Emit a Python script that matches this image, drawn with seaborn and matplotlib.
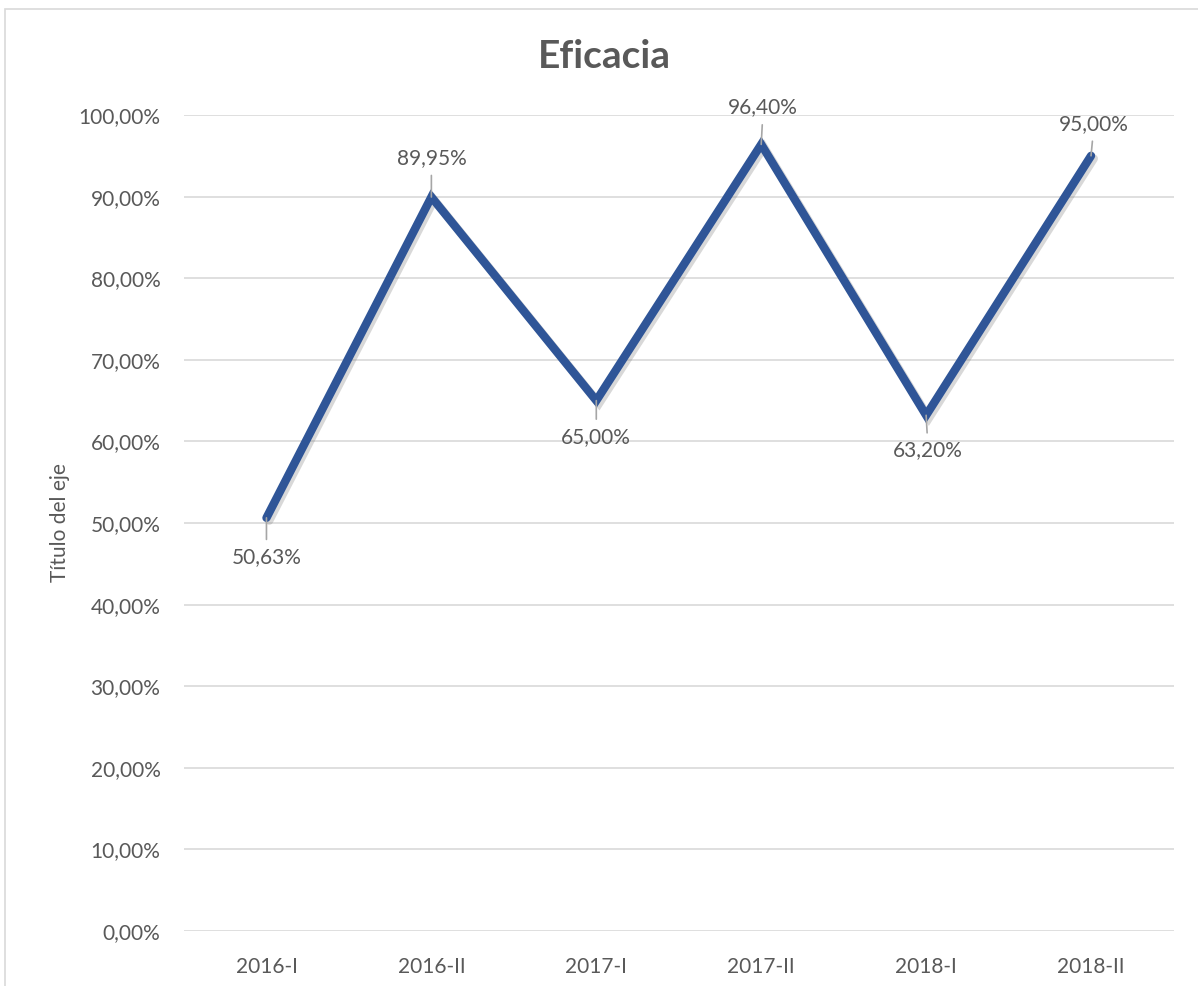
import matplotlib
matplotlib.use("Agg")
import matplotlib.pyplot as plt
import matplotlib.patheffects as pe
import seaborn as sns
import pandas as pd

categories = ["2016-I", "2016-II", "2017-I", "2017-II", "2018-I", "2018-II"]
values = [50.63, 89.95, 65.00, 96.40, 63.20, 95.00]
labels = ["50,63%", "89,95%", "65,00%", "96,40%", "63,20%", "95,00%"]
label_offsets = [(0, -39), (0, 39), (0, -36), (2, 37), (2, -35), (3, 32)]
yticks = [0, 10, 20, 30, 40, 50, 60, 70, 80, 90, 100]
ytick_labels = [f"{v},00%" for v in yticks]

sns.set_theme(style="white")
plt.rcParams['font.family'] = ['Lato', 'DejaVu Sans']

TXT = "#595959"
FS = 15
fig = plt.figure(figsize=(11.98, 9.86), dpi=100)
ax = fig.add_axes([184/1198, (986-931)/986, (1173.5-184)/1198, (931-115)/986])

df = pd.DataFrame({"cat": categories, "val": values})
sns.lineplot(data=df, x="cat", y="val", ax=ax, color="#2F5597", linewidth=6,
             solid_capstyle="round", solid_joinstyle="miter", sort=False,
             path_effects=[pe.SimpleLineShadow(offset=(2, -2), alpha=0.3, shadow_color="#7f7f7f"), pe.Normal()])

ax.set_xlim(-0.5, 5.5)
ax.set_ylim(0, 100)
ax.set_yticks(yticks)
ax.set_yticklabels(ytick_labels)
ax.grid(axis="y", color="#D9D9D9", linewidth=1.2)
ax.set_axisbelow(True)
for s in ax.spines.values():
    s.set_visible(False)
ax.tick_params(axis="both", length=0, labelsize=FS, colors=TXT)
ax.tick_params(axis="y", pad=17)
ax.tick_params(axis="x", pad=19)
ax.set_xlabel("")
ax.set_ylabel("Título del eje", fontsize=FS, color=TXT, labelpad=6)

for i, (v, lab, off) in enumerate(zip(values, labels, label_offsets)):
    ax.annotate(lab, xy=(i, v), xytext=off, textcoords="offset pixels",
                ha="center", va="center", fontsize=FS, color=TXT,
                arrowprops=dict(arrowstyle="-", color="#A6A6A6", lw=1.2, shrinkA=3, shrinkB=0))

fig.text(604/1198, 1 - 57/986, "Eficacia", fontsize=28, fontweight="bold", color=TXT,
         ha="center", va="center")

fig.add_artist(plt.Rectangle((5/1198, -0.01), 1.0, 1 - 9/986 + 0.01, transform=fig.transFigure,
                             fill=False, edgecolor="#D9D9D9", linewidth=1.2))

fig.savefig("out.png", dpi=100, facecolor="white")
